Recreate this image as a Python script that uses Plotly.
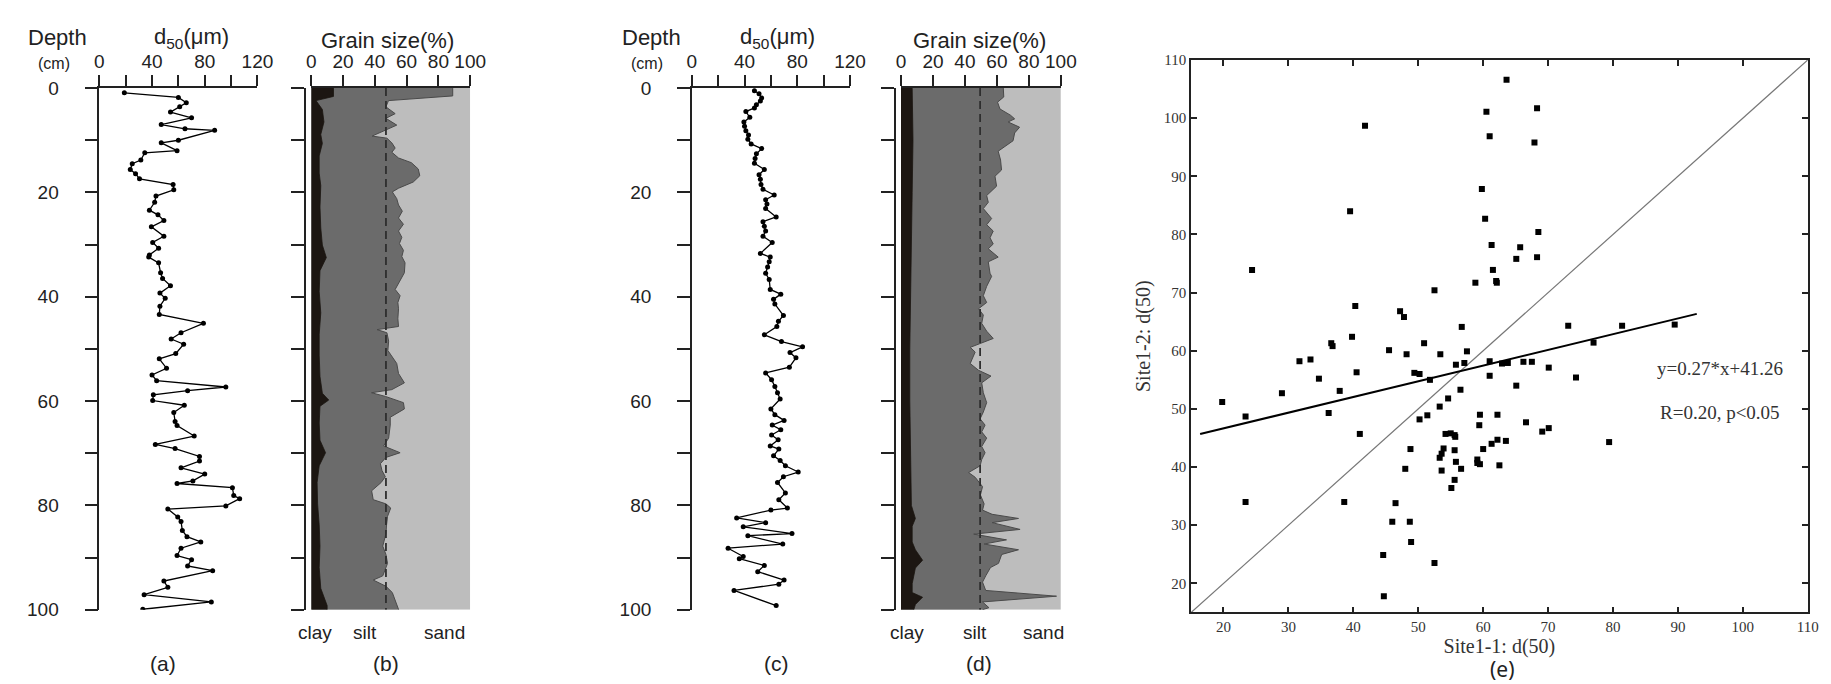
import plotly.graph_objects as go

# ---- data ----
# (a) site 1-1 d50 profile
depth_a = [0.9, 1.8, 2.8, 3.6, 4.6, 5.7, 7.0, 7.8, 8.1, 10.0, 10.5, 12.0, 12.4, 13.8, 14.5, 15.6, 16.4, 17.4,
           18.5, 19.5, 20.7, 21.9, 23.4, 24.3, 25.4, 26.6, 28.4, 29.6, 30.7, 32.0, 32.4, 33.5, 35.4, 36.5,
           37.9, 39.3, 40.3, 41.8, 43.4, 45.1, 46.9, 48.1, 49.1, 50.9, 51.9, 53.7, 55.0, 56.1, 57.3, 58.0,
           58.8, 59.9, 60.8, 62.2, 63.9, 64.7, 66.7, 68.3, 69.1, 70.6, 71.5, 72.8, 74.0, 75.3, 75.8, 76.6,
           78.1, 78.7, 80.1, 80.7, 82.2, 83.1, 84.8, 86.0, 87.0, 88.2, 89.6, 90.4, 91.6, 92.5, 94.5, 95.7,
           97.1, 98.5, 99.9]
d50_a = [19, 60, 66, 61, 54, 70, 47, 65, 87.5, 60, 47, 59, 34.5, 31.5, 25, 23.5, 27.5, 30.5, 56, 56.5, 43, 42,
         38, 44.5, 49, 39.5, 49, 40.5, 45, 38, 37.5, 45, 46.5, 48, 54, 46, 50, 46, 45.5, 79, 62, 54.5, 64, 58,
         45.5, 51, 40, 43.5, 96, 67, 41, 40.5, 64.5, 56.5, 57.5, 59, 72, 42.5, 57.5, 76, 76, 62, 80, 71, 59,
         101, 102, 106.5, 96, 52, 59.5, 62, 63, 66.5, 77, 62, 59, 70, 67, 86, 49, 52, 34, 85, 33]

# (b) site 1-1 grain size (cumulative %)
depth_b_clay = [0, 1.6, 2.4, 4.1, 6.5, 8.9, 10.6, 13.0, 16.3, 18.7, 22.8, 26.8, 30.1, 32.5, 35.0, 39.0, 43.1,
                47.2, 51.2, 55.3, 58.5, 59.8, 61.0, 64.2, 67.5, 69.9, 72.4, 75.6, 79.7, 83.7, 87.8, 91.9,
                95.9, 99.2, 100]
clay_b = [14, 14, 3, 7, 8, 6, 7, 5, 5, 6, 5.5, 6, 7, 9.5, 5.5, 5, 6, 5, 5, 5.5, 7, 11, 5.5, 5, 5.5, 9, 5,
          3.7, 4, 5, 5.5, 5, 6, 10, 10]
depth_b_silt = [0, 1.5, 2.4, 3.6, 4.9, 5.8, 7.1, 8.0, 9.2, 9.6, 10.5, 11.5, 12.3, 13.4, 14.3, 15.5, 16.8,
                18.0, 19.2, 19.9, 21.2, 22.4, 23.6, 24.9, 26.1, 27.4, 28.6, 29.8, 31.1, 32.3, 33.5, 35.4,
                37.4, 38.6, 39.8, 41.1, 42.3, 44.2, 45.7, 46.3, 46.9, 48.5, 50.3, 52.8, 54.7, 56.5, 57.8,
                58.4, 59.1, 60.3, 61.5, 63.1, 64.6, 67.1, 68.6, 69.9, 70.8, 72.0, 73.3, 74.5, 75.6, 77.2,
                78.9, 79.7, 80.5, 82.1, 83.7, 85.4, 87.8, 89.4, 91.1, 93.5, 94.3, 95.5, 96.7, 98.4, 100]
silt_b = [89, 89, 48.6, 47, 52.8, 47, 53.8, 47.6, 38.3, 47.6, 50.7, 52.8, 50.7, 54.9, 63, 67.3, 68.3, 64.2,
          54.9, 51, 53.8, 54.9, 57.3, 54.9, 58, 54.9, 57, 55.5, 58, 57, 59, 58.6, 54.9, 52.8, 55.9, 54.5,
          54.9, 54.5, 54.9, 41.4, 47.6, 48.7, 48.2, 53.8, 54.9, 58.6, 50.7, 37.9, 46.6, 58, 58.6, 49.7,
          49.7, 48.7, 45.5, 55.9, 47, 43.5, 44.5, 46.6, 44, 38, 39, 47, 50, 48, 47.4, 47, 45, 47, 48, 45,
          39, 47, 51, 53, 55]
mean_b = 47

# (c) site 1-2 d50 profile
depth_c = [0.5, 1.1, 1.9, 2.5, 3.2, 3.8, 4.5, 5.6, 6.5, 7.3, 8.2, 9.0, 9.8, 10.7, 11.6, 12.6, 13.5, 14.4,
           15.6, 16.6, 17.5, 18.5, 19.4, 20.5, 21.4, 22.2, 23.1, 24.7, 25.6, 26.5, 27.4, 28.4, 29.6, 31.7,
           32.4, 33.3, 34.3, 35.5, 36.7, 38.6, 39.5, 40.5, 41.4, 43.6, 44.7, 45.7, 47.3, 48.6, 49.6, 50.7,
           51.7, 53.5, 54.6, 55.9, 57.2, 58.4, 59.6, 61.5, 62.6, 63.7, 64.6, 65.5, 66.5, 67.4, 68.6, 69.2,
           70.5, 71.4, 72.4, 73.6, 74.5, 75.6, 77.6, 78.9, 80.5, 80.9, 82.4, 83.3, 84.1, 85.4, 85.8, 87.4,
           88.2, 89.8, 90.2, 91.5, 92.7, 94.3, 95.1, 96.3, 99.2]
d50_c = [47.5, 51, 53, 52, 49, 47.5, 41, 44, 39.5, 40, 41, 43, 42.5, 45, 53, 49, 48, 47.5, 55, 51, 52, 52.5,
         54, 62.5, 56, 57, 56, 64, 54, 55, 56, 54, 61, 52, 59.5, 58.7, 57.5, 56, 58.7, 59.5, 67.5, 62, 63,
         69.5, 65.7, 64.5, 55, 68, 84, 74.5, 79, 74, 56, 60.5, 63, 65, 67, 60, 63, 70, 61, 67.5, 60.5, 65.5,
         59.5, 66, 62, 67, 71, 80.7, 69.5, 65, 71, 66, 72.5, 60, 34, 56, 39, 76, 42.5, 69, 27.5, 39, 36, 55,
         50, 70, 66, 32, 64]

# (d) site 1-2 grain size (cumulative %)
depth_d_clay = [0, 10, 20, 30, 40, 50, 60, 70, 80, 82.5, 84, 87, 88.5, 90.5, 92, 95, 96.7, 97.6, 99, 100]
clay_d = [7, 7.5, 7, 6.5, 6, 5.5, 5.5, 6, 6.5, 9, 7, 7, 9, 13.5, 9, 7, 7, 13.5, 9, 8]
depth_d_silt = [0.0, 1.7, 2.7, 4.0, 5.2, 5.9, 6.5, 7.5, 8.6, 10.1, 12.1, 13.8, 15.7, 16.9, 18.8, 20.6, 21.9,
                23.1, 25.0, 26.2, 27.4, 28.7, 29.9, 30.8, 32.4, 33.3, 35.5, 36.1, 38.0, 39.8, 41.1, 42.3,
                43.5, 45.1, 46.6, 48.0, 49.7, 50.6, 52.8, 54.1, 55.2, 56.5, 58.4, 60.3, 62.1, 63.4, 64.6,
                65.9, 67.1, 68.7, 69.9, 71.2, 72.4, 73.7, 74.6, 76.4, 78.0, 79.7, 80.9, 81.7, 82.5, 83.3,
                84.6, 85.5, 86.6, 87.4, 88.5, 89.4, 91.1, 91.9, 93.5, 94.7, 96.3, 97.4, 98.5, 99.6, 100]
silt_d = [64, 64.3, 60.4, 61.9, 68.5, 71.1, 67, 74.2, 71.1, 70.1, 60.8, 62.3, 62.9, 58.8, 59.8, 53.6, 54.6,
          51.5, 56.7, 53.6, 57.7, 55.7, 57.7, 54.6, 60.8, 54.6, 55.7, 56.7, 53.6, 51.5, 53.6, 48.5, 51.5,
          50.5, 53.6, 57.7, 43.3, 46.4, 43.3, 48.5, 56.3, 50.5, 51.5, 53.6, 51.5, 49.5, 52.6, 50.5, 53.6,
          50.5, 52.6, 50.5, 49.5, 42.3, 46.4, 51, 49.7, 52, 51, 57, 73.5, 57, 74.5, 45.5, 66, 52, 73.5, 63,
          61, 56, 53, 51, 53, 97.3, 51, 55, 51]
mean_d = 49.5

sand_top = [100, 100]
sand_depth = [0, 100]

# (e) site1-1 vs site1-2 d50
x_site11 = [63.6, 60.5, 68.3, 41.8, 61.0, 67.9, 59.8, 39.5, 60.3, 68.5, 61.3, 65.7, 65.1, 68.3, 24.4, 61.5,
            58.8, 62.0, 62.1, 52.5, 40.3, 47.2, 47.8, 56.7, 73.1, 81.4, 89.5, 39.8, 77.0, 36.6, 36.8, 50.9,
            45.5, 57.5, 48.2, 53.4, 31.7, 33.4, 55.8, 57.1, 61.0, 62.9, 63.8, 66.2, 67.5, 70.1, 40.5, 49.4,
            50.2, 61.0, 34.7, 51.8, 74.3, 65.1, 56.5, 37.9, 29.0, 54.6, 19.8, 53.3, 36.2, 23.4, 50.2, 51.4,
            59.5, 62.2, 59.4, 66.6, 69.1, 70.1, 41.0, 54.2, 55.0, 55.6, 55.7, 62.2, 63.5, 79.4, 61.3, 48.8,
            53.9, 55.6, 60.0, 53.6, 53.3, 55.8, 59.1, 59.1, 59.5, 62.5, 48.0, 53.6, 56.6, 55.6, 55.1, 23.4,
            38.6, 46.5, 46.0, 48.7, 48.9, 44.6, 52.5, 44.7]
y_site12 = [106.6, 101.1, 101.7, 98.7, 96.9, 95.8, 87.8, 84.0, 82.7, 80.4, 78.2, 77.8, 75.8, 76.1, 73.9,
            73.9, 71.7, 72.0, 71.7, 70.4, 67.7, 66.8, 65.8, 64.1, 64.3, 64.3, 64.5, 62.4, 61.4, 61.3, 60.8,
            61.3, 60.1, 59.9, 59.4, 59.4, 58.2, 58.5, 57.6, 57.9, 58.2, 57.8, 57.9, 58.1, 58.1, 57.1, 56.3,
            56.2, 56.0, 55.7, 55.2, 55.0, 55.4, 54.0, 53.3, 53.1, 52.7, 51.8, 51.2, 50.4, 49.3, 48.7, 48.2,
            48.9, 49.0, 49.0, 47.2, 47.7, 46.1, 46.7, 45.7, 45.7, 45.8, 45.5, 45.2, 44.7, 44.5, 44.3, 44.0,
            43.1, 43.2, 42.9, 43.1, 42.3, 41.6, 40.9, 41.3, 40.7, 40.5, 40.3, 39.7, 39.4, 39.7, 37.8, 36.4,
            34.0, 34.0, 33.8, 30.6, 30.6, 27.1, 24.9, 23.5, 17.8]
slope, intercept = 0.27, 41.26
fit_x = [16.4, 92.9]
one_to_one = [15, 110]

# ---- layout helpers (pixel -> paper) ----
W, H = 1831, 684
def fx(px):
    return px / W
def fy(py):
    return 1 - py / H

SANS = "Liberation Sans, Arial, sans-serif"
SERIF = "Liberation Serif, Times New Roman, serif"
INK = "#222222"
CLAY_C = "#1c1612"
SILT_C = "#6b6b6b"
SAND_C = "#bdbdbd"

depth_dom = [fy(610.5), fy(72.3)]

fig = go.Figure()

# profiles (a) and (c)
for d50, depth, ax in [(d50_a, depth_a, ""), (d50_c, depth_c, "3")]:
    fig.add_trace(go.Scatter(x=d50, y=depth, mode="lines+markers",
                             line=dict(color="black", width=1.3),
                             marker=dict(color="black", size=5),
                             xaxis="x" + ax, yaxis="y" + ax, showlegend=False))

# grain size stacks (b) and (d)
for ax, dc, cl, ds, si, mn in [("2", depth_b_clay, clay_b, depth_b_silt, silt_b, mean_b),
                               ("4", depth_d_clay, clay_d, depth_d_silt, silt_d, mean_d)]:
    fig.add_trace(go.Scatter(x=sand_top, y=sand_depth, mode="lines", fill="tozerox",
                             fillcolor=SAND_C, line=dict(width=0, color=SAND_C),
                             xaxis="x" + ax, yaxis="y" + ax, showlegend=False))
    fig.add_trace(go.Scatter(x=si, y=ds, mode="lines", fill="tozerox",
                             fillcolor=SILT_C, line=dict(width=1, color="#4a4a4a"),
                             xaxis="x" + ax, yaxis="y" + ax, showlegend=False))
    fig.add_trace(go.Scatter(x=cl, y=dc, mode="lines", fill="tozerox",
                             fillcolor=CLAY_C, line=dict(width=0.8, color=CLAY_C),
                             xaxis="x" + ax, yaxis="y" + ax, showlegend=False))
    fig.add_trace(go.Scatter(x=[mn, mn], y=sand_depth, mode="lines",
                             line=dict(color="#2e2e2e", width=1.8, dash="8px,5px"),
                             xaxis="x" + ax, yaxis="y" + ax, showlegend=False))

# scatter (e)
fig.add_trace(go.Scatter(x=one_to_one, y=one_to_one, mode="lines",
                         line=dict(color="#777777", width=1.2),
                         xaxis="x5", yaxis="y5", showlegend=False))
fig.add_trace(go.Scatter(x=fit_x, y=[slope * v + intercept for v in fit_x], mode="lines",
                         line=dict(color="black", width=2),
                         xaxis="x5", yaxis="y5", showlegend=False))
fig.add_trace(go.Scatter(x=x_site11, y=y_site12, mode="markers",
                         marker=dict(symbol="square", color="black", size=6),
                         xaxis="x5", yaxis="y5", showlegend=False))

depth_major = list(range(0, 101, 20))
depth_minor = list(range(10, 100, 20))
d50_major = [0, 40, 80, 120]
d50_minor = [20, 60, 100]
tick_font = dict(family=SANS, size=19, color=INK)

def depth_axis(xa, labels=True, free_pos=None):
    ax = dict(domain=depth_dom, range=[100, 0], showline=True, linecolor=INK, linewidth=1.5,
              ticks="outside", ticklen=13, tickwidth=1.5, tickcolor=INK, tickvals=depth_major,
              minor=dict(tickvals=depth_minor, ticks="outside", ticklen=13, tickwidth=1.5,
                         tickcolor=INK, showgrid=False),
              showticklabels=labels, tickfont=tick_font,
              showgrid=False, zeroline=False, anchor=xa)
    if labels:
        ax["ticklabelstandoff"] = 22
    if free_pos is not None:
        ax["anchor"] = "free"
        ax["position"] = free_pos
    return ax

def top_axis(dom, rng, vals, minor_vals, ya):
    ax = dict(domain=dom, range=rng, side="top", showline=True, linecolor=INK, linewidth=1.5,
              ticks="outside", ticklen=11, tickwidth=1.5, tickcolor=INK, tickvals=vals,
              tickfont=tick_font, showgrid=False, zeroline=False, anchor=ya)
    if minor_vals:
        ax["minor"] = dict(tickvals=minor_vals, ticks="outside", ticklen=11, tickwidth=1.5,
                           tickcolor=INK, showgrid=False)
    return ax

pct_ticks = list(range(0, 101, 20))

frame_font = dict(family=SERIF, size=15, color="#333333")
e_ticks = list(range(20, 111, 10))

fig.update_layout(
    width=W, height=H, margin=dict(l=0, r=0, t=0, b=0),
    paper_bgcolor="white", plot_bgcolor="rgba(0,0,0,0)",
    xaxis=top_axis([fx(87.3), fx(247.3)], [0, 120], d50_major, d50_minor, "y"),
    yaxis=depth_axis("x"),
    xaxis2=top_axis([fx(301.7), fx(462.5)], [0, 100], pct_ticks, None, "y2"),
    yaxis2=depth_axis("x2", labels=False, free_pos=fx(295)),
    xaxis3=top_axis([fx(686.7), fx(846.7)], [0, 120], d50_major, d50_minor, "y3"),
    yaxis3=depth_axis("x3"),
    xaxis4=top_axis([fx(898.3), fx(1060)], [0, 100], pct_ticks, None, "y4"),
    yaxis4=depth_axis("x4", labels=False, free_pos=fx(892.3)),
    xaxis5=dict(domain=[fx(1191.7), fx(1815.6)], range=[15, 110], anchor="y5",
                showline=True, mirror="ticks", linecolor="#222222", linewidth=1.5,
                ticks="inside", ticklen=6, tickwidth=1.5, tickcolor="#222222",
                tickvals=e_ticks, tickfont=frame_font, showgrid=False, zeroline=False,
                title=dict(text="Site1-1: d(50)", font=dict(family=SERIF, size=20, color="#333333"),
                           standoff=4)),
    yaxis5=dict(domain=[fy(613.3), fy(43.3)], range=[15, 110], anchor="x5",
                showline=True, mirror="ticks", linecolor="#222222", linewidth=1.5,
                ticks="inside", ticklen=6, tickwidth=1.5, tickcolor="#222222",
                tickvals=e_ticks, tickfont=frame_font, showgrid=False, zeroline=False,
                title=dict(text="Site1-2: d(50)", font=dict(family=SERIF, size=20, color="#333333"),
                           standoff=8)),
)

def note(text, px, py, size=20, family=SANS, color=INK):
    fig.add_annotation(text=text, x=fx(px), y=fy(py), xref="paper", yref="paper",
                       xanchor="center", yanchor="middle", showarrow=False,
                       font=dict(family=family, size=size, color=color))

# headings
for depth_x, cm_x, d50_x, grain_x, clay_x, silt_x, sand_x, lab1, lab1_x, lab2, lab2_x in [
        (45, 41, 181, 379, 305, 356, 437, "(a)", 152, "(b)", 377),
        (646, 641, 773, 978, 904, 973, 1042, "(c)", 772, "(d)", 977)]:
    note("Depth", depth_x, 20, size=22)
    note("(cm)", cm_x, 47, size=16)
    note("d<sub>50</sub>(μm)", d50_x, 21, size=22)
    note("Grain size(%)", grain_x, 23, size=22)
    note("clay", clay_x, 634, size=19)
    note("silt", silt_x, 634, size=19)
    note("sand", sand_x, 634, size=19)
    note(lab1, lab1_x, 666, size=21)
    note(lab2, lab2_x, 666, size=21)

note("(e)", 1506.7, 672, size=21, family="Noto Sans, Open Sans, sans-serif")

# regression text in data coords of (e)
for txt, yv in [("y=0.27*x+41.26", 56.9), ("R=0.20, p&lt;0.05", 49.4)]:
    fig.add_annotation(text=txt, x=96.5, y=yv, xref="x5", yref="y5", showarrow=False,
                       xanchor="center", yanchor="middle",
                       font=dict(family=SERIF, size=19, color="#333333"))

fig.write_html("out.html")
